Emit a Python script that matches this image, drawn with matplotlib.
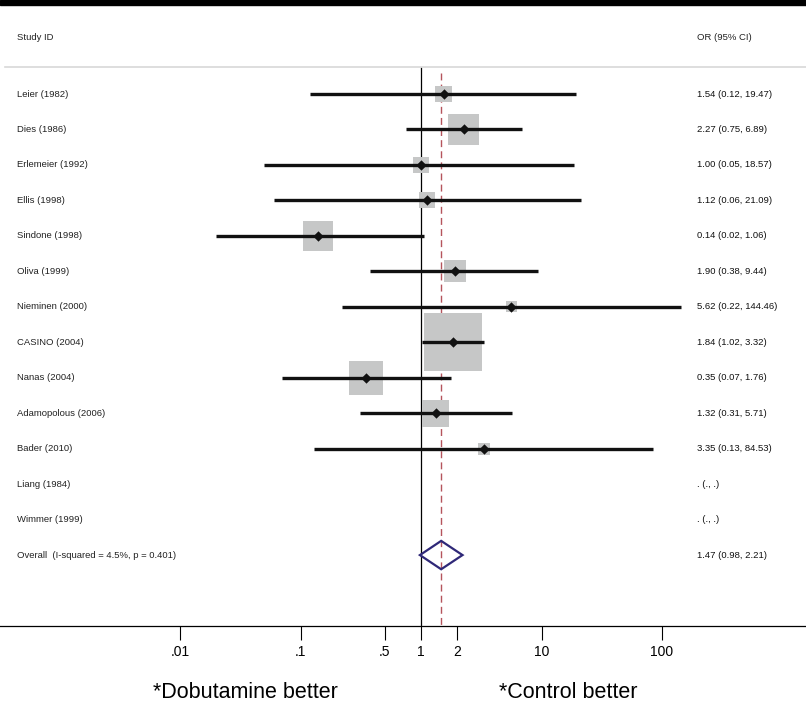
import numpy as np
import matplotlib.pyplot as plt

# forest plot data
studies = ['Leier (1982)', 'Dies (1986)', 'Erlemeier (1992)', 'Ellis (1998)',
           'Sindone (1998)', 'Oliva (1999)', 'Nieminen (2000)', 'CASINO (2004)',
           'Nanas (2004)', 'Adamopolous (2006)', 'Bader (2010)', 'Liang (1984)',
           'Wimmer (1999)']
odds = [1.54, 2.27, 1.00, 1.12, 0.14, 1.90, 5.62, 1.84, 0.35, 1.32, 3.35, np.nan, np.nan]
lower = [0.12, 0.75, 0.05, 0.06, 0.02, 0.38, 0.22, 1.02, 0.07, 0.31, 0.13, np.nan, np.nan]
upper = [19.47, 6.89, 18.57, 21.09, 1.06, 9.44, 144.46, 3.32, 1.76, 5.71, 84.53, np.nan, np.nan]
weights = [3.3, 11.1, 3.0, 3.0, 10.4, 5.6, 1.4, 38.8, 13.3, 8.4, 1.7, 0.0, 0.0]

overall_label = 'Overall  (I-squared = 4.5%, p = 0.401)'
overall = [1.47, 0.98, 2.21]

tick_vals = [0.01, 0.1, 0.5, 1, 2, 10, 100]
tick_labels = ['.01', '.1', '.5', '1', '2', '10', '100']

plt.rcParams['font.family'] = ['Liberation Sans', 'DejaVu Sans']

fig = plt.figure(figsize=(8.06, 7.02), dpi=100)
ax = fig.add_axes([0, 76 / 702, 1, 621 / 702])
ax.set_xscale('log')
ax.set_xlim(10 ** (-421 / 120.5), 10 ** (385 / 120.5))
ax.set_ylim(15.0, -2.51)

rows = np.arange(len(studies))
overall_row = len(studies)
tr = ax.get_yaxis_transform()
fs = 6.8

# header and separator
ax.text(17 / 806, -1.58, 'Study ID', transform=tr, fontsize=fs, va='center', ha='left', color='#222222')
ax.text(697 / 806, -1.58, 'OR (95% CI)', transform=tr, fontsize=fs, va='center', ha='left', color='#222222')
ax.axhline(-0.76, xmin=5 / 806, xmax=1, color='#d8d8d8', lw=1.2)

# reference lines
ax.vlines(1, -0.76, 15.0, color='black', lw=0.9, zorder=1)
ax.vlines(overall[0], -0.6, 15.0, color='#b5545c', lw=1.0, linestyles=(0, (5, 3)), zorder=1)

# weight boxes, CI lines, point estimates
box_side = 9.31 * np.sqrt(weights) * 0.72
ax.scatter(odds, rows, s=box_side ** 2, marker='s', color='#c6c7c7', lw=0, zorder=2)
ax.hlines(rows, lower, upper, color='#111111', lw=2.4, zorder=3)
ax.scatter(odds, rows, s=28, marker='D', color='#111111', lw=0, zorder=4)

# overall diamond
est, lo, hi = overall
ax.fill([lo, est, hi, est, lo], [overall_row, overall_row - 0.4, overall_row,
                                 overall_row + 0.4, overall_row],
        facecolor='none', edgecolor='#2f2878', lw=1.6, zorder=4)

# text columns
for i, name in enumerate(studies):
    ax.text(17 / 806, i, name, transform=tr, fontsize=fs, va='center', ha='left', color='#222222')
    if np.isnan(odds[i]):
        txt = '. (., .)'
    else:
        txt = '%.2f (%.2f, %.2f)' % (odds[i], lower[i], upper[i])
    ax.text(697 / 806, i, txt, transform=tr, fontsize=fs, va='center', ha='left', color='#111111')
ax.text(17 / 806, overall_row, overall_label, transform=tr, fontsize=fs,
        va='center', ha='left', color='#222222')
ax.text(697 / 806, overall_row, '%.2f (%.2f, %.2f)' % tuple(overall), transform=tr,
        fontsize=fs, va='center', ha='left', color='#111111')

# axis styling
for side in ['top', 'left', 'right']:
    ax.spines[side].set_visible(False)
ax.spines['bottom'].set_linewidth(0.9)
ax.set_yticks([])
ax.set_xticks(tick_vals)
ax.set_xticklabels(tick_labels)
ax.minorticks_off()
ax.tick_params(axis='x', length=10, width=0.8, pad=4, labelsize=10)

# bottom annotations
fig.text(153 / 806, 1 - 692 / 702, '*Dobutamine better', fontsize=15.5, va='center', ha='left')
fig.text(499 / 806, 1 - 692 / 702, '*Control better', fontsize=15.5, va='center', ha='left')

# top black band
fig.patches.append(plt.Rectangle((0, 1 - 5 / 702), 1, 5 / 702, transform=fig.transFigure,
                                 color='black', zorder=10))

fig.savefig('out.png', dpi=100)
